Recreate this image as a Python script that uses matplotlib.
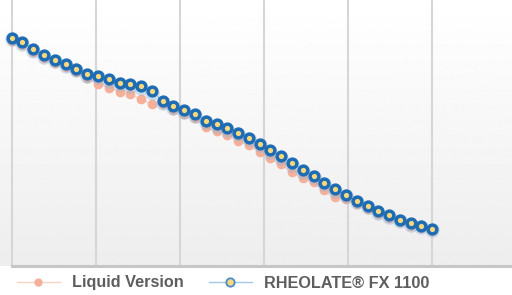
import matplotlib.pyplot as plt
import numpy as np
from matplotlib.lines import Line2D

# Readings (arbitrary viscosity units, 40 samples)
samples = np.arange(40)

liquid_version = [225.5, 221, 214, 208, 203.5, 199, 194.5, 188.5, 182, 178.3,
                  174.3, 171.7, 166.7, 161.7, 162, 156.5, 152.5, 148, 138.7, 135,
                  131, 125.3, 121, 114.5, 107.7, 101.7, 93.7, 87.7, 84, 76,
                  69.3, 67, 62, 57, 52, 48, 44, 40.5, 38, 35.5]

rheolate_fx1100 = [228.5, 224, 217, 211, 206.5, 202, 197.5, 192, 190.5, 187,
                   183.5, 181.7, 180, 175, 165, 160, 156, 151.7, 145.3, 141.7,
                   138, 133.3, 128.3, 122.3, 116, 110, 102.7, 96, 90.3, 83.3,
                   76.7, 71.5, 65.3, 60.3, 55, 50.7, 46.3, 42.7, 40.3, 37.3]

series_labels = ['Liquid Version', 'RHEOLATE\u00ae FX 1100']

ORANGE = '#f5b09a'
ORANGE_LINE = '#f7d3c6'
BLUE = '#1d6cb4'
BLUE_LINE = '#a3c7e6'
YELLOW = '#f7d87e'

fig = plt.figure(figsize=(5.12, 2.95), dpi=100)
ax = fig.add_axes([0, 29 / 295, 1, 266 / 295])

x_min, x_max = -1.085, 46.4
ax.set_xlim(x_min, x_max)
ax.set_ylim(0, 266)

# soft grey gradient background
grad = np.linspace(1.0, 0.93, 256).reshape(-1, 1)
ax.imshow(grad, cmap='gray', vmin=0, vmax=1, aspect='auto',
          extent=(x_min, x_max, 0, 266), zorder=0)

for gx in np.linspace(0, 39, 6):
    ax.axvline(gx, color='#d6d6d6', linewidth=1.5, zorder=1)

# bottom axis line
ax.plot([0, x_max], [0, 0], color='#c6c6c6', linewidth=2.2,
        clip_on=False, zorder=2)

# liquid version (behind)
ax.plot(samples, liquid_version, color=ORANGE_LINE, linewidth=1,
        marker='o', markersize=7, markerfacecolor=ORANGE,
        markeredgecolor=ORANGE, markeredgewidth=0, zorder=3)

# glow under rheolate markers
ax.plot(samples, np.array(rheolate_fx1100) - 1.5, linestyle='none',
        marker='o', markersize=10.5, markerfacecolor='#8fb3d6',
        markeredgewidth=0, alpha=0.4, zorder=4)

ax.plot(samples, rheolate_fx1100, color=BLUE_LINE, linewidth=1,
        marker='o', markersize=6.3, markerfacecolor=YELLOW,
        markeredgecolor=BLUE, markeredgewidth=2.5, zorder=5)

ax.axis('off')

handles = [
    Line2D([], [], color=ORANGE_LINE, linewidth=1, marker='o', markersize=6,
           markerfacecolor=ORANGE, markeredgewidth=0),
    Line2D([], [], color=BLUE_LINE, linewidth=1, marker='o', markersize=6,
           markerfacecolor=YELLOW, markeredgecolor='#4a8cc8',
           markeredgewidth=1.3),
]
fig.legend(handles, series_labels, loc='center left',
           bbox_to_anchor=(0.004, 12 / 295), ncol=2, frameon=False,
           handlelength=2.65, handletextpad=0.75, columnspacing=1.55,
           prop={'family': 'Liberation Sans', 'weight': 'bold', 'size': 11.7},
           labelcolor='#5e5e5e')

fig.savefig('out.png', dpi=100, facecolor='white')
